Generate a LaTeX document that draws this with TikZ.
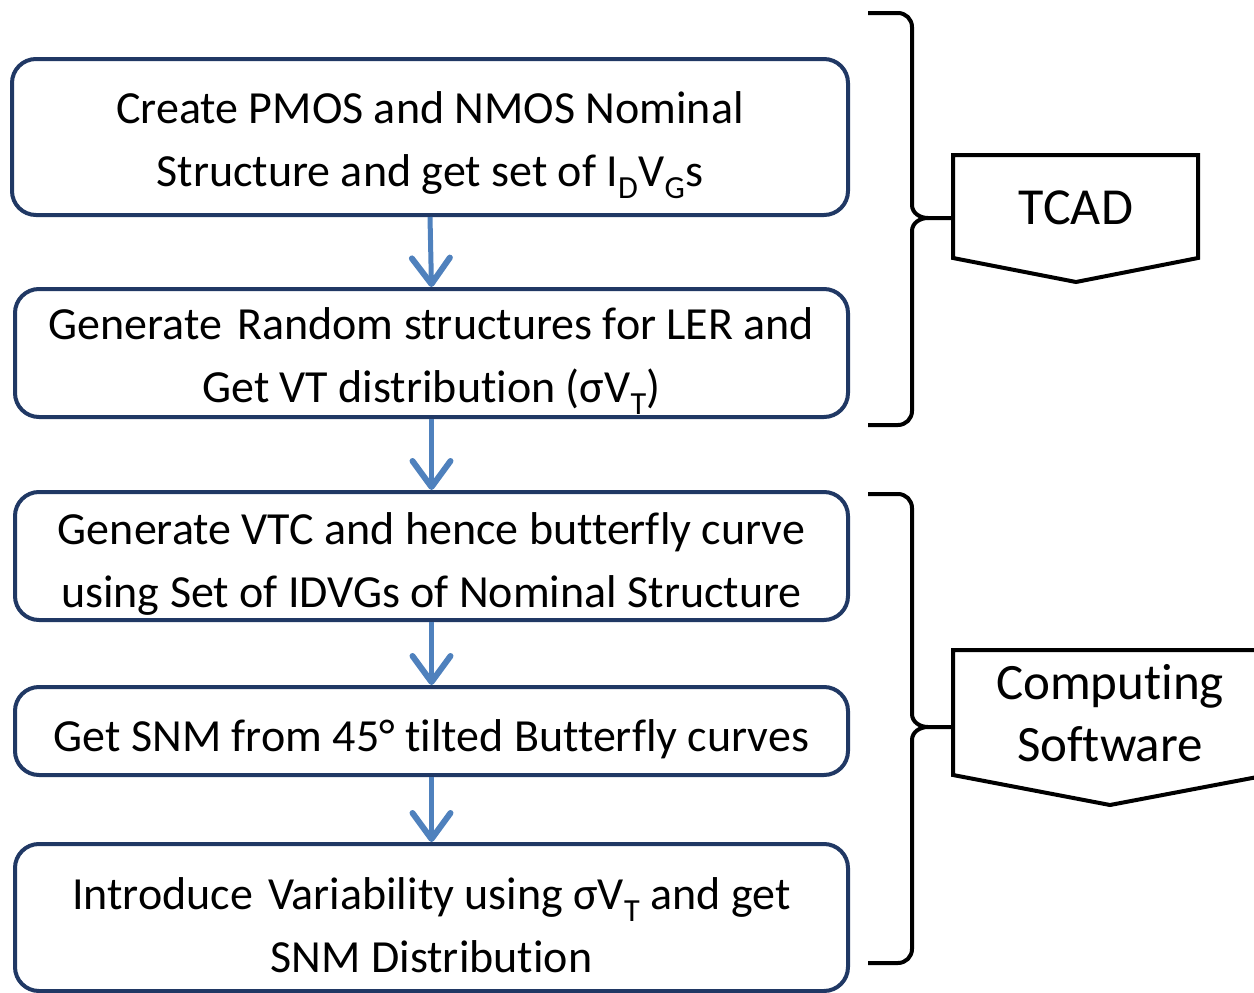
\documentclass[tikz,border=0pt]{standalone}
\usepackage{fontspec}
\setmainfont{Carlito}[Ligatures=NoCommon]
\usetikzlibrary{arrows.meta}
\definecolor{boxnavy}{HTML}{203864}
\definecolor{flowblue}{HTML}{4F81BD}
\begin{document}
\begin{tikzpicture}[x=1pt,y=-1pt,
  stepbox/.style={draw=boxnavy, line width=4pt, rounded corners=24pt, inner sep=0pt,
    minimum width=833pt},
  steptext/.style={align=center, inner sep=0pt, font=\fontsize{46}{63}\selectfont},
  flow/.style={draw=flowblue, line width=5pt,
    -{Straight Barb[length=26pt,width=38pt,line width=6pt,line cap=round,line join=round]}},
  brace/.style={draw=black, line width=4pt, line join=round},
  tag/.style={draw=black, line width=4pt, line join=miter},
  tagtext/.style={align=center, inner sep=0pt}]
\useasboundingbox (0,0) rectangle (1254,993);

% process step frames
\node[stepbox, minimum width=836pt, minimum height=156pt] (s1) at (430,137) {};
\node[stepbox, minimum height=128pt] (s2) at (431.5,353) {};
\node[stepbox, minimum height=128pt] (s3) at (431.5,556) {};
\node[stepbox, minimum height=88pt] (s4) at (431.5,731) {};
\node[stepbox, minimum height=147pt] (s5) at (431.5,917.5) {};

% step labels, set a little below each frame's centre
\node[steptext] (t1) at ([yshift=-8pt]s1.center)
  {Create PMOS and NMOS Nominal\\Structure and get set of I\textsubscript{D}V\textsubscript{G}s};
\node[steptext] (t2) at ([yshift=-8pt]s2.center)
  {Generate\hspace{15pt}Random structures for LER and\\Get VT distribution (σV\textsubscript{T})};
\node[steptext] (t3) at ([yshift=-8pt]s3.center)
  {Generate VTC and hence butterfly curve\\using Set of IDVGs of Nominal Structure};
\node[steptext] (t4) at ([yshift=-8pt]s4.center)
  {Get SNM from 45° tilted Butterfly curves};
\node[steptext] (t5) at ([yshift=-8pt]s5.center)
  {Introduce\hspace{15pt}Variability using σV\textsubscript{T} and get\\SNM Distribution};

% flow arrows
\draw[flow] (s1.south) -- (s2.north);
\draw[flow] (s2.south) -- (s3.north);
\draw[flow] (s3.south) -- (s4.north);
\draw[flow] (s4.south) -- (s5.north);

% group tags
\draw[tag] (953,155) -- (1198,155) -- (1198,258) -- (1076,282) -- (953,258) -- cycle;
\node[tagtext, font=\fontsize{52}{60}\selectfont] (tcad) at (1076,208) {TCAD};
\coordinate (tcadtip) at (953,218);

\draw[tag] (953,650) -- (1268,650) -- (1268,775) -- (1110,805) -- (953,775) -- cycle;
\node[tagtext, font=\fontsize{51}{62}\selectfont] (soft) at (1110,713) {Computing\\Software};
\coordinate (softtip) at (953,727);

% braces
\draw[brace] (868,13) -- (898,13) to[out=0,in=90] (912,27) -- (912,205)
  to[out=-90,in=180] (928,218) -- (tcadtip);
\draw[brace] (928,218) to[out=180,in=90] (912,231) -- (912,411)
  to[out=-90,in=0] (898,425) -- (868,425);

\draw[brace] (868,494) -- (898,494) to[out=0,in=90] (912,508) -- (912,714)
  to[out=-90,in=180] (928,727) -- (softtip);
\draw[brace] (928,727) to[out=180,in=90] (912,740) -- (912,949)
  to[out=-90,in=0] (898,963) -- (868,963);
\end{tikzpicture}
\end{document}
